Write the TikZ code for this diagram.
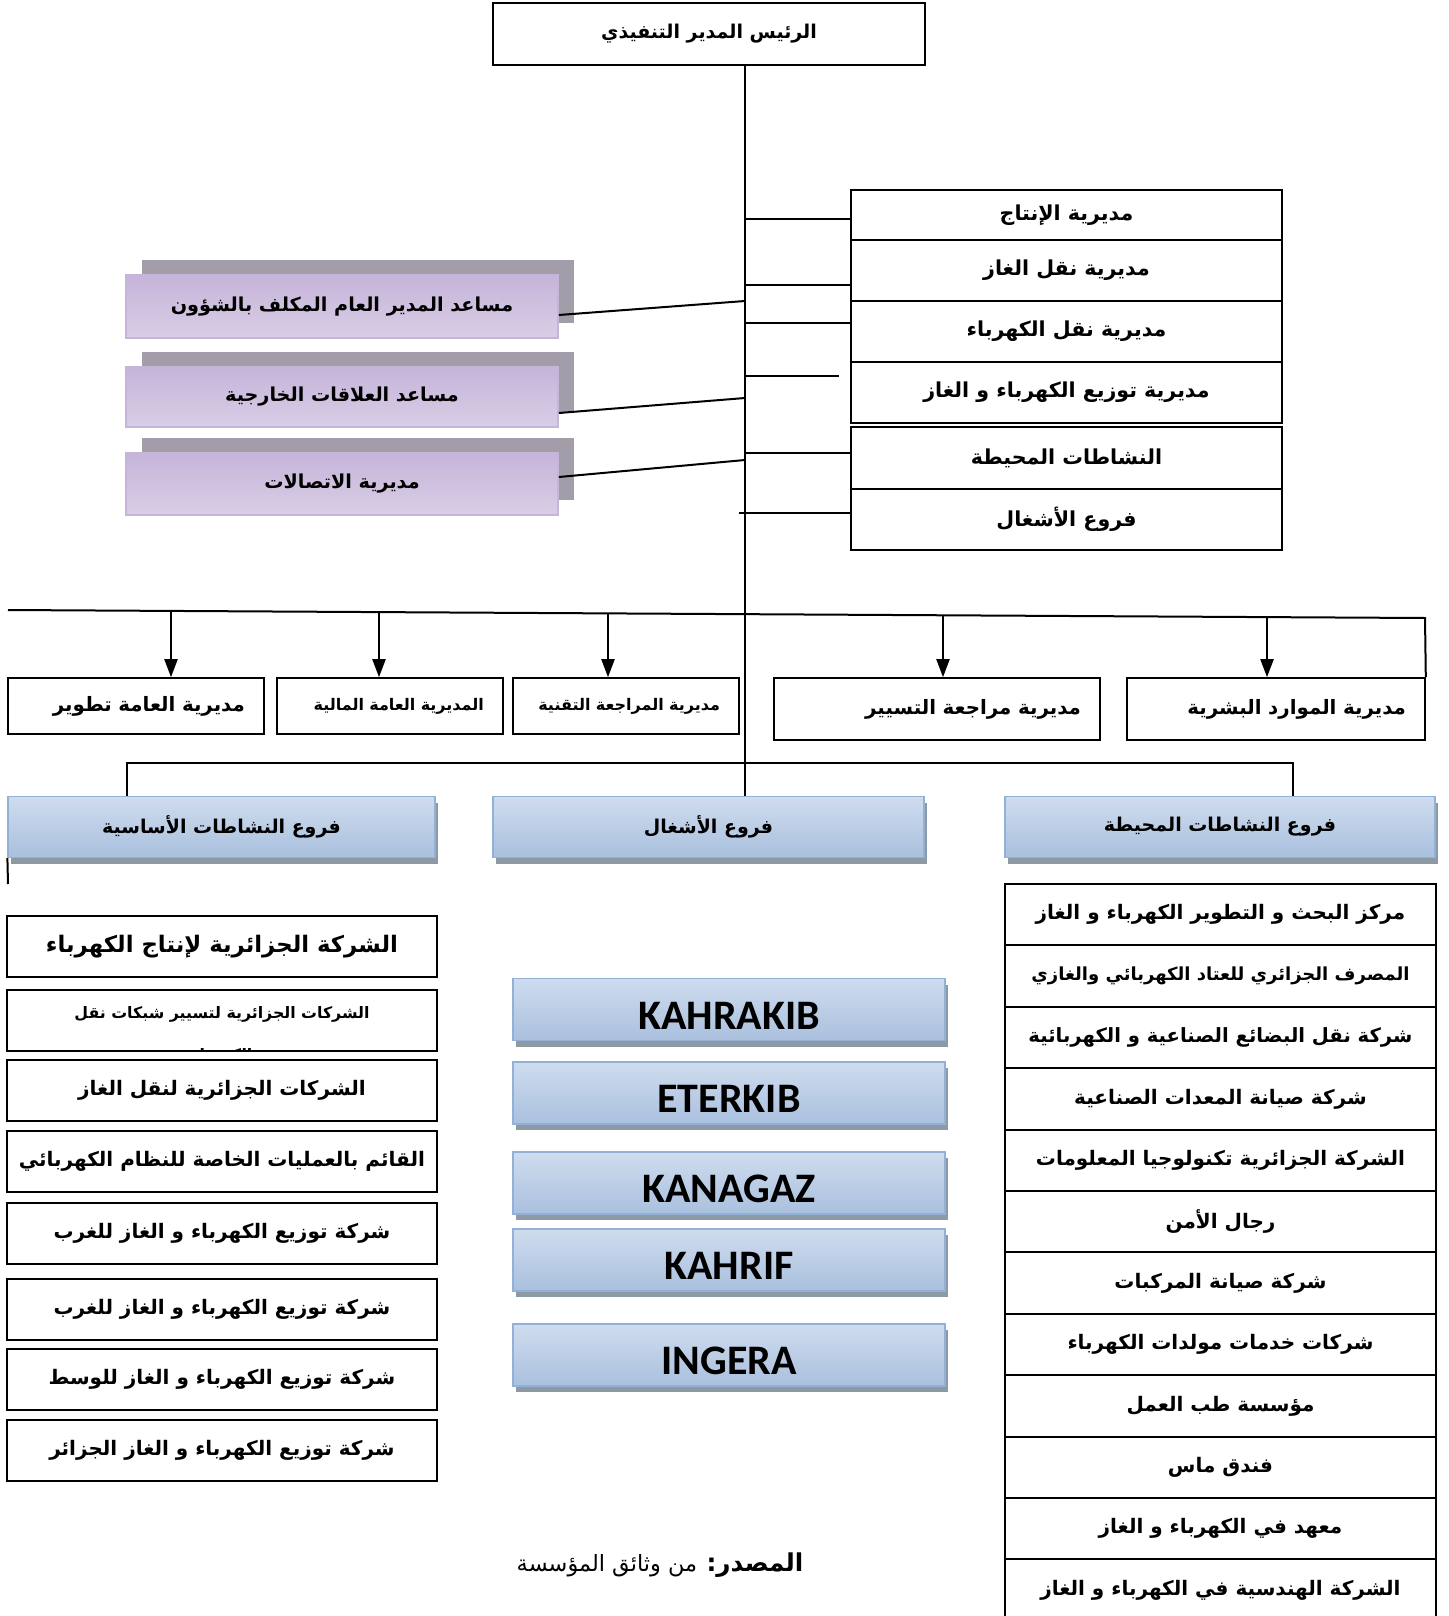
\documentclass[tikz,border=0pt]{standalone}
\usepackage{fontspec}
\usetikzlibrary{positioning,calc,shadows,arrows.meta}
\TeXXeTstate=1
\newfontfamily\arabicfont[Script=Arabic]{DejaVu Sans}
\newfontfamily\latinfont{Carlito}
\newcommand{\AR}[1]{\beginR #1\endR}
\definecolor{purpletop}{HTML}{C6B4DA}
\definecolor{purplemid}{HTML}{F1EEF6}
\definecolor{purplebot}{HTML}{D8CEE5}
\definecolor{purpleline}{HTML}{C5B5D8}
\definecolor{purpleshade}{HTML}{A39CA9}
\definecolor{bluetop}{HTML}{CFDCEE}
\definecolor{bluemid}{HTML}{E0E8F3}
\definecolor{bluebot}{HTML}{A9C0DE}
\definecolor{blueline}{HTML}{93B1D6}
\definecolor{blueshade}{HTML}{8E99A6}

\begin{document}
\begin{tikzpicture}[x=0.5pt, y=-0.5pt,
  line/.style={line width=1pt},
  arr/.style={line width=1pt, -{Triangle[length=9pt,width=6.5pt]}},
  arbold/.style={font=\arabicfont\bfseries\fontsize{#1}{#1}\selectfont},
  ceobox/.style={draw, line width=1pt, inner sep=0pt, minimum width=216pt, minimum height=31pt, arbold=9.5},
  dirbox/.style={draw, line width=1pt, inner sep=0pt, minimum width=215.5pt, arbold=10.3},
  purplebox/.style={draw=purpleline, line width=0.8pt, inner sep=0pt, minimum width=216pt,
    top color=purpletop, middle color=purplemid, bottom color=purplebot,
    drop shadow={shadow xshift=8pt, shadow yshift=7.5pt, fill=purpleshade, opacity=1}, arbold=9.6},
  rowbox/.style={draw, line width=0.8pt, inner xsep=9.5pt, inner ysep=0pt, align=right, arbold=9.9},
  bluebox/.style={draw=blueline, line width=0.6pt, inner sep=0pt,
    top color=bluetop, middle color=bluemid, bottom color=bluebot,
    drop shadow={shadow xshift=1.3pt, shadow yshift=-3pt, fill=blueshade, opacity=1}},
  branchbox/.style={bluebox, minimum width=215pt, minimum height=30.5pt, arbold=9.5},
  firmbox/.style={bluebox, minimum width=216pt, minimum height=31pt, text height=19.8pt, text depth=0pt,
    font=\latinfont\bfseries\fontsize{21}{21}\selectfont},
  listbox/.style={draw, line width=1pt, inner sep=0pt, minimum width=215pt, minimum height=30.5pt, arbold=10}]
\useasboundingbox (0,0) rectangle (1448,1616);

% top
\node[ceobox] (ceo) at (709,34) {\AR{الرئيس المدير التنفيذي}};

% right column of directorates
\node[dirbox, minimum height=25pt] (r1) at (1066.5,215) {\AR{مديرية الإنتاج}};
\node[dirbox, minimum height=30.5pt] (r2) at (1066.5,270.5) {\AR{مديرية نقل الغاز}};
\node[dirbox, minimum height=30.5pt] (r3) at (1066.5,331.5) {\AR{مديرية نقل الكهرباء}};
\node[dirbox, minimum height=30.5pt] (r4) at (1066.5,392.5) {\AR{مديرية توزيع الكهرباء و الغاز}};
\node[dirbox, minimum height=31pt] (r5) at (1066.5,458) {\AR{النشاطات المحيطة}};
\node[dirbox, minimum height=30.5pt] (r6) at (1066.5,519.5) {\AR{فروع الأشغال}};

% left assistants
\node[purplebox, minimum height=31.5pt] (p1) at (342,306.5) {\AR{مساعد المدير العام المكلف بالشؤون}};
\node[purplebox, minimum height=30pt] (p2) at (342,397) {\AR{مساعد العلاقات الخارجية}};
\node[purplebox, minimum height=31pt] (p3) at (342,484) {\AR{مديرية الاتصالات}};

% row of directorates
\node[rowbox, text width=109pt, minimum height=28pt] (b1) at (136,706) {\AR{مديرية العامة تطوير}};
\node[rowbox, text width=94pt, minimum height=28pt, arbold=8] (b2) at (390,706) {\AR{المديرية العامة المالية}};
\node[rowbox, text width=94pt, minimum height=28pt, arbold=8] (b3) at (626,706) {\AR{مديرية المراجعة التقنية}};
\node[rowbox, text width=144pt, minimum height=31pt] (b4) at (937,709) {\AR{مديرية مراجعة التسيير}};
\node[rowbox, text width=130pt, minimum height=31pt] (b5) at (1276,709) {\AR{مديرية الموارد البشرية}};

% branches
\node[branchbox, minimum width=213.5pt] (br1) at (221.5,827) {\AR{فروع النشاطات الأساسية}};
\node[branchbox, minimum width=215.5pt] (br2) at (708.5,827) {\AR{فروع الأشغال}};
\node[branchbox] (br3) at (1220,827) {\AR{فروع النشاطات المحيطة}};

% spine and ticks
\coordinate (sp) at (745,0);
\draw[line] (ceo.south -| sp) -- (br2.north -| sp);
\draw[line] (sp |- 0,219) -- (r1.west |- 0,219);
\draw[line] (sp |- 0,285) -- (r2.west |- 0,285);
\draw[line] (sp |- 0,323) -- (r3.west |- 0,323);
\coordinate (tk) at (839,376);
\draw[line] (sp |- tk) -- (tk);
\draw[line] (sp |- 0,453) -- (r5.west |- 0,453);
\coordinate (tk2) at (739,513);
\draw[line] (tk2) -- (r6.west |- tk2);
\draw[line] ($(p1.east)+(0,8.5)$) -- (sp |- 0,301);
\draw[line] ($(p2.east)+(0,16)$) -- (sp |- 0,398);
\draw[line] ($(p3.east)+(0,-7)$) -- (sp |- 0,460);

% bar with arrows
\coordinate (barL) at (8,610);
\coordinate (barR) at (1425,618);
\draw[line] (barL) -- (barR) -- (b5.north east);
\foreach \x/\n/\y in {171/b1/611, 379/b2/612, 608/b3/613.5, 943/b4/615.5, 1267/b5/617}
  \draw[arr] (\x,\y) -- (\n.north -| \x,0);

% bar to branches
\coordinate (lb) at (127,763);
\coordinate (rb) at (1293,763);
\draw[line] (br1.north -| lb) -- (lb) -- (rb) -- (br3.north -| rb);
\coordinate (stub) at (8,884);
\draw[line] (br1.south west) -- (stub);

% left list
\node[listbox, arbold=11.4] (l1) at (222,946.5) {\AR{الشركة الجزائرية لإنتاج الكهرباء}};
\node[listbox] (l2) at (222,1020) {};
\begin{scope}
\clip (l2.north west) rectangle (l2.south east);
\node[arbold=7.9, align=center, anchor=north, inner sep=0pt] (l2t) at ($(l2.north)+(0,18)$)
  {\AR{الشركات الجزائرية لتسيير شبكات نقل}\\[12pt]\AR{الكهرباء}};
\end{scope}
\foreach \t/\y [count=\i from 3] in {الشركات الجزائرية لنقل الغاز/1090.5,
    القائم بالعمليات الخاصة للنظام الكهربائي/1161.5,
    شركة توزيع الكهرباء و الغاز للغرب/1233,
    شركة توزيع الكهرباء و الغاز للغرب/1309,
    شركة توزيع الكهرباء و الغاز للوسط/1379.5,
    شركة توزيع الكهرباء و الغاز الجزائر/1450.5}
  \node[listbox] (l\i) at (222,\y) {\AR{\t}};

% middle list
\foreach \t/\y [count=\i] in {KAHRAKIB/1009.5, ETERKIB/1093, KANAGAZ/1183, KAHRIF/1260, INGERA/1355}
  \node[firmbox] (m\i) at (729,\y) {\t};

% right list
\foreach \t/\s [count=\i] in {مركز البحث و التطوير الكهرباء و الغاز/10,
    المصرف الجزائري للعتاد الكهربائي والغازي/9,
    شركة نقل البضائع الصناعية و الكهربائية/9.8,
    شركة صيانة المعدات الصناعية/10,
    الشركة الجزائرية تكنولوجيا المعلومات/10,
    رجال الأمن/10,
    شركة صيانة المركبات/10,
    شركات خدمات مولدات الكهرباء/10,
    مؤسسة طب العمل/10,
    فندق ماس/10,
    معهد في الكهرباء و الغاز/10,
    الشركة الهندسية في الكهرباء و الغاز/10}
  \node[listbox, arbold=\s, minimum width=215.5pt, minimum height=30.7pt] (q\i) at (1220.5,{914.7+61.4*(\i-1)}) {\AR{\t}};

% source
\node[font=\arabicfont\fontsize{11.2}{11.2}\selectfont] (src) at (660,1565)
  {\AR{{\bfseries\fontsize{12.3}{12.3}\selectfont المصدر:} من وثائق المؤسسة}};
\end{tikzpicture}
\end{document}
